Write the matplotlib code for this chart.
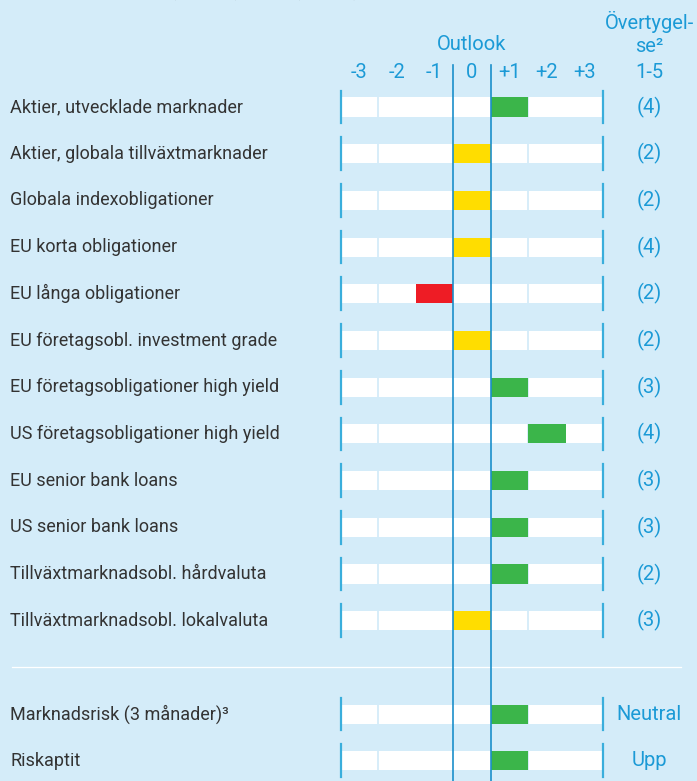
import matplotlib
matplotlib.use('Agg')
import matplotlib.pyplot as plt
import matplotlib.transforms as mtransforms

# ── Data ────────────────────────────────────────────────────────────────────
labels = [
    'Aktier, utvecklade marknader',
    'Aktier, globala tillväxtmarknader',
    'Globala indexobligationer',
    'EU korta obligationer',
    'EU långa obligationer',
    'EU företagsobl. investment grade',
    'EU företagsobligationer high yield',
    'US företagsobligationer high yield',
    'EU senior bank loans',
    'US senior bank loans',
    'Tillväxtmarknadsobl. hårdvaluta',
    'Tillväxtmarknadsobl. lokalvaluta',
]
outlook = [1, 0, 0, 0, -1, 0, 1, 2, 1, 1, 1, 0]
conviction = ['(4)', '(2)', '(2)', '(4)', '(2)', '(2)', '(3)', '(4)', '(3)', '(3)', '(2)', '(3)']

risk_labels = ['Marknadsrisk (3 månader)³', 'Riskaptit']
risk_outlook = [1, 1]
risk_text = ['Neutral', 'Upp']

scale_ticks = [-3, -2, -1, 0, 1, 2, 3]
scale_labels = ['-3', '-2', '-1', '0', '+1', '+2', '+3']

# ── Style ───────────────────────────────────────────────────────────────────
BG = '#d4ecf9'
BLUE = '#1b9ad6'
LINE = '#1b8fcb'
TICK = '#3aaedc'
TEXT = '#333333'
GREEN = '#3bb54a'
YELLOW = '#ffdd00'
RED = '#ee1c25'
FONT = ['Roboto', 'DejaVu Sans']
LAB_FS = 13
BLUE_FS = 14.5

plt.rcParams['font.family'] = FONT

W, H = 697, 781
X0, UNIT = 472, 37.5          # pixel centre of "0" cell, pixel width of a cell
ROW0, ROWH = 107, 46.7        # pixel centre of first row, row spacing

fig = plt.figure(figsize=(W / 100, H / 100), dpi=100)
fig.patch.set_facecolor(BG)
ax = fig.add_axes([0, 0, 1, 1])
ax.set_facecolor(BG)
ax.axis('off')
ax.set_xlim(-X0 / UNIT, (W - X0) / UNIT)
ax.set_ylim((H - ROW0) / ROWH, -ROW0 / ROWH)


def px_y(py):
    return (py - ROW0) / ROWH


def px_x(px):
    return (px - X0) / UNIT


def color_for(v):
    if v > 0:
        return GREEN
    if v < 0:
        return RED
    return YELLOW


left = mtransforms.blended_transform_factory(fig.transFigure, ax.transData)

rows = list(range(len(labels))) + [13, 14]
all_labels = labels + risk_labels
all_vals = outlook + risk_outlook
all_right = conviction + risk_text
bar_h = 0.41

for r, lab, v, rt in zip(rows, all_labels, all_vals, all_right):
    # white band with thin gaps
    ax.barh(r, 7, left=-3.5, height=bar_h, color='white', zorder=1)
    for g in (-2.5, 1.5):
        ax.plot([g, g], [r - bar_h / 2, r + bar_h / 2], color=BG, lw=1.3, zorder=2)
    # outlook cell
    ax.barh(r, 1, left=v - 0.5, height=bar_h, color=color_for(v), zorder=3)
    # end ticks
    for e in (-3.5, 3.5):
        ax.plot([e, e], [r - 0.35, r + 0.35], color=TICK, lw=1.6, zorder=4)
    ax.text(10 / W, r, lab, transform=left, ha='left', va='center',
            color=TEXT, fontsize=LAB_FS)
    ax.text(px_x(649), r, rt, ha='center', va='center', color=BLUE, fontsize=BLUE_FS)

# centre lines around the zero cell
for c in (-0.5, 0.5):
    ax.plot([c, c], [px_y(65), px_y(H + 5)], color=LINE, lw=1.2, zorder=5)

# separator
ax.plot([px_x(12), px_x(681)], [12, 12], color='white', lw=0.9, zorder=1)

# header
for t, s in zip(scale_ticks, scale_labels):
    ax.text(t, px_y(72), s, ha='center', va='center', color=BLUE, fontsize=BLUE_FS)
ax.text(0, px_y(45), 'Outlook', ha='center', va='center', color=BLUE, fontsize=BLUE_FS)
ax.text(px_x(649), px_y(22), 'Övertygel-', ha='center', va='center', color=BLUE, fontsize=BLUE_FS)
ax.text(px_x(649), px_y(47), 'se²', ha='center', va='center', color=BLUE, fontsize=BLUE_FS)
ax.text(px_x(649), px_y(72), '1-5', ha='center', va='center', color=BLUE, fontsize=BLUE_FS)

# subtitle, clipped by the top edge as in the source
ax.text(px_x(170), px_y(-3), '(negativ) till +3 (positiv)', ha='left', va='baseline',
        color=TEXT, fontsize=LAB_FS)

fig.savefig('out.png', dpi=100, facecolor=BG)
